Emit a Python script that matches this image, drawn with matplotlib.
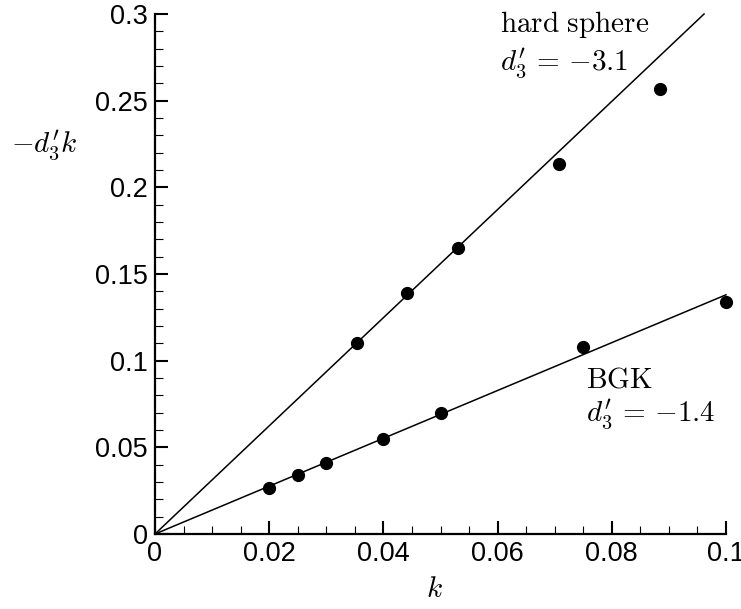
import numpy as np
import matplotlib
matplotlib.use('Agg')
import matplotlib.pyplot as plt
from matplotlib.ticker import MultipleLocator, FuncFormatter

# Data
hsK = [0.0354, 0.0442, 0.0530, 0.0707, 0.0884]
hsVals = [0.110, 0.139, 0.165, 0.2135, 0.2566]
bgkK = [0.020, 0.025, 0.030, 0.040, 0.050, 0.075, 0.100]
bgkVals = [0.0265, 0.0338, 0.0408, 0.0549, 0.0698, 0.108, 0.1337]

# Fitted slopes (-d3') of the two straight lines
hsSlope = 3.12
bgkSlope = 1.38

plt.rcParams['mathtext.fontset'] = 'cm'
plt.rcParams['font.family'] = ['Liberation Sans', 'DejaVu Sans']

fig = plt.figure(figsize=(7.41, 6.09), dpi=100)
ax = fig.add_axes([155 / 741, 1 - 534 / 609, 571 / 741, 520 / 609])

# Fit lines through the origin
hsLineK = np.array([0.0, 0.3 / hsSlope])
bgkLineK = np.array([0.0, 0.1])
ax.plot(hsLineK, hsSlope * hsLineK, color='k', linewidth=1.1, clip_on=False)
ax.plot(bgkLineK, bgkSlope * bgkLineK, color='k', linewidth=1.1, clip_on=False)

# Data points
ax.plot(hsK, hsVals, 'o', color='k', markersize=8.5, clip_on=False)
ax.plot(bgkK, bgkVals, 'o', color='k', markersize=8.5, clip_on=False)

ax.set_xlim(0, 0.1)
ax.set_ylim(0, 0.3)

ax.spines['top'].set_visible(False)
ax.spines['right'].set_visible(False)
ax.spines['left'].set_linewidth(1.6)
ax.spines['bottom'].set_linewidth(1.6)

ax.xaxis.set_major_locator(MultipleLocator(0.02))
ax.xaxis.set_minor_locator(MultipleLocator(0.005))
ax.yaxis.set_major_locator(MultipleLocator(0.05))
ax.yaxis.set_minor_locator(MultipleLocator(0.01))
fmt = FuncFormatter(lambda v, p: '%g' % round(v, 4))
ax.xaxis.set_major_formatter(fmt)
ax.yaxis.set_major_formatter(fmt)

ax.tick_params(which='major', direction='in', length=9.5, width=1.5,
               labelsize=19.5, pad=5)
ax.tick_params(which='minor', direction='in', length=5.5, width=0.8)

ax.set_xlabel(r'$k$', fontsize=21)
ax.xaxis.set_label_coords(0.489, -0.079)
ax.set_ylabel(r'$-d_3^{\prime}k$', fontsize=21, rotation=0, ha='center', va='center')
ax.yaxis.set_label_coords(-0.193, 0.748)

# Line annotations
ax.text(0.0604, 0.2895, r'$\mathrm{hard\ sphere}$', fontsize=21, va='baseline')
ax.text(0.0604, 0.2673, r'$d_3^{\prime}\,=\,{-3.1}$', fontsize=21, va='baseline')
ax.text(0.0754, 0.0848, r'$\mathrm{BGK}$', fontsize=21, va='baseline')
ax.text(0.0754, 0.0648, r'$d_3^{\prime}\,=\,{-1.4}$', fontsize=21, va='baseline')

fig.savefig('out.png', dpi=100)
